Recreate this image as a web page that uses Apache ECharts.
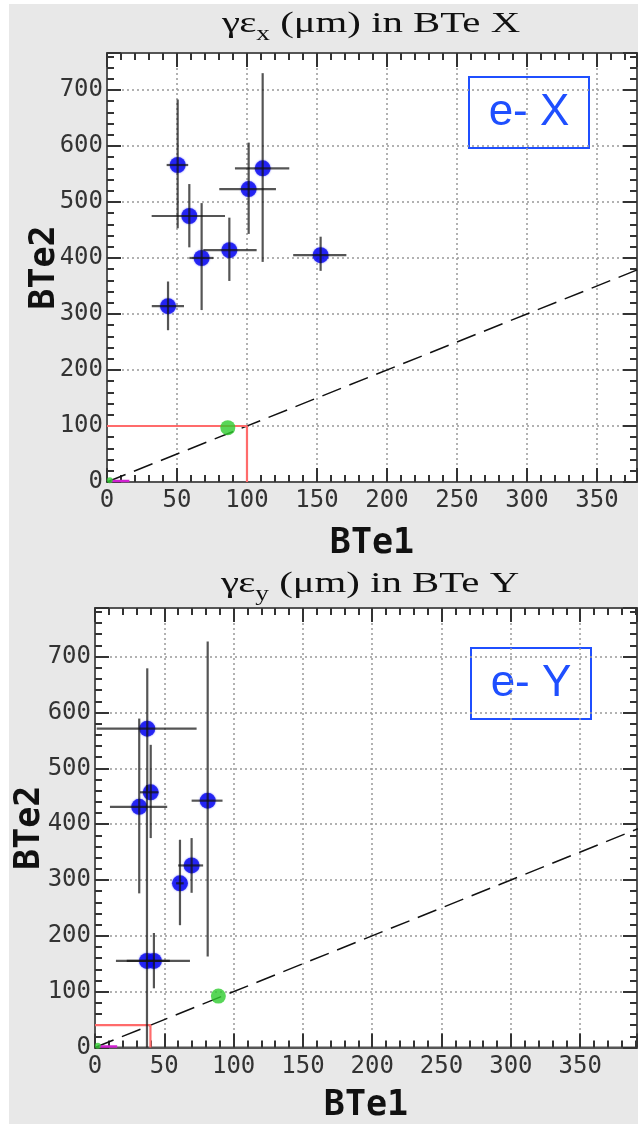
<!DOCTYPE html>
<html><head><meta charset="utf-8">
<script src="https://cdn.jsdelivr.net/npm/echarts@6/dist/echarts.min.js"></script>
<style>html,body{margin:0;padding:0;background:#fff;}#bg{position:absolute;left:9px;top:4px;width:629px;height:1120px;background:#e8e8e8;}#c{position:absolute;left:0;top:0;width:638px;height:1133px;}</style>
</head><body><div id="bg"></div><div id="c"></div>
<script>
// ---- data: top panel (e- X) ----
const topX    = [43.6, 50.5, 58.8, 67.6, 87.4, 101.2, 111.2, 152.6];
const topY    = [314, 566, 475, 400, 414, 523, 560, 405];
const topXLo  = [32, 42.6, 31.9, 58.8, 68.8, 80.2, 91.4, 133];
const topXHi  = [55, 58, 84.3, 76, 106.9, 120.7, 130.2, 171];
const topYLo  = [271, 453, 419, 307, 359, 443, 393, 377];
const topYHi  = [358, 683, 532, 498, 472, 606, 730, 438];
const topRef  = [86.3, 97];           // green reference point
const topCut  = 100;                  // red box corner
// ---- data: bottom panel (e- Y) ----
const botX    = [37.7, 40.2, 31.9, 81.3, 69.7, 61.3, 42.5, 37.5];
const botY    = [571, 457, 431, 442, 326, 294, 155, 155];
const botXLo  = [1.2, 32.4, 10.8, 69.7, 60, 58.5, 15.1, 22.9];
const botXHi  = [73.3, 45.6, 52.1, 92, 78, 64, 68.5, 54];
const botYLo  = [460, 375, 276, 163, 277, 219, 106, 0];
const botYHi  = [679, 542, 589, 727, 375, 372, 205, 470];
const botRef  = [89, 92];
const botCut  = 40;
// diagonal y = x and tiny near-origin markers
const diag    = [0, 420];
const nearOrigin = [[3, 2], [16, 2]];
const originPt = [2, 3];
// ticks
const xTickStep = 50, yTickStep = 100;
const topXMax = 378.6, topYMax = 766, botXMax = 391, botYMax = 787;

const chart = echarts.init(document.getElementById('c'), null, {renderer:'canvas'});
const tickFont = {fontFamily:'DejaVu Sans Mono', fontSize:24, color:'#333'};
const nameFont = {fontFamily:'DejaVu Sans Mono', fontSize:35, fontWeight:'bold', color:'#111'};
const lineSt = {show:true, onZero:false, lineStyle:{color:'#555', width:2}};
const tickSt = {show:true, inside:true, length:14, lineStyle:{color:'#333', width:2}};
const minorSt = {show:true, splitNumber:5, length:7, lineStyle:{color:'#333', width:2}};

function xAxes(gi, max, gap){
  return [{
    type:'value', gridIndex:gi, min:0, max:max, interval:xTickStep, position:'bottom',
    name:'BTe1', nameLocation:'middle', nameGap:gap, nameTextStyle:nameFont,
    axisLine:lineSt, axisTick:tickSt, minorTick:minorSt,
    axisLabel:{...tickFont, margin:7, showMaxLabel:false},
    splitLine:{show:true, lineStyle:{color:'#999', type:[2,3], width:1.5}}
  },{
    type:'value', gridIndex:gi, min:0, max:max, interval:xTickStep, position:'top',
    axisLine:lineSt, axisTick:tickSt, minorTick:minorSt,
    axisLabel:{show:false}, splitLine:{show:false}
  }];
}
function yAxes(gi, max, gap){
  return [{
    type:'value', gridIndex:gi, min:0, max:max, interval:yTickStep, position:'left',
    name:'BTe2', nameLocation:'middle', nameGap:gap, nameMoveOverlap:false, nameTextStyle:nameFont,
    axisLine:lineSt, axisTick:tickSt, minorTick:minorSt,
    axisLabel:{...tickFont, margin:4, showMaxLabel:false},
    splitLine:{show:true, lineStyle:{color:'#999', type:[2,3], width:1.5}}
  },{
    type:'value', gridIndex:gi, min:0, max:max, interval:yTickStep, position:'right',
    axisLine:lineSt, axisTick:tickSt, minorTick:minorSt,
    axisLabel:{show:false}, splitLine:{show:false}
  }];
}
function zipErr(xs, ys, xl, xh, yl, yh){ return xs.map((x,i)=>[x, ys[i], xl[i], xh[i], yl[i], yh[i]]); }
function errSeries(idx, data){
  return {
    type:'custom', xAxisIndex:idx*2, yAxisIndex:idx*2, z:5, data:data,
    renderItem:function(params, api){
      const x=api.value(0), y=api.value(1);
      const a=api.coord([api.value(2), y]), b=api.coord([api.value(3), y]);
      const c=api.coord([x, api.value(4)]), d=api.coord([x, api.value(5)]);
      const st={stroke:'rgba(20,20,20,0.72)', lineWidth:2.2};
      return {type:'group', children:[
        {type:'line', shape:{x1:a[0], y1:a[1], x2:b[0], y2:b[1]}, style:st},
        {type:'line', shape:{x1:c[0], y1:c[1], x2:d[0], y2:d[1]}, style:st}
      ]};
    }
  };
}
function panelSeries(idx, xs, ys, xl, xh, yl, yh, ref, cut){
  const ax = idx*2;
  return [
    {type:'line', xAxisIndex:ax, yAxisIndex:ax, data:[[diag[0],diag[0]],[diag[1],diag[1]]], symbol:'none', z:2,
     lineStyle:{color:'#111', width:1.5, type:[20,9]}, silent:true},
    {type:'line', xAxisIndex:ax, yAxisIndex:ax, data:[[0,cut],[cut,cut],[cut,0]], symbol:'none', z:3,
     lineStyle:{color:'#ff6b6b', width:2.2}, silent:true},
    {type:'line', xAxisIndex:ax, yAxisIndex:ax, data:nearOrigin, symbol:'none', z:3,
     lineStyle:{color:'#d020d0', width:2.5}, silent:true},
    {type:'scatter', xAxisIndex:ax, yAxisIndex:ax, data:[originPt], symbolSize:6, z:3,
     itemStyle:{color:'#33cc33'}},
    {type:'scatter', xAxisIndex:ax, yAxisIndex:ax, data:[ref], symbolSize:15, z:4,
     itemStyle:{color:'#2ecc2e'}},
    {type:'scatter', xAxisIndex:ax, yAxisIndex:ax, data:xs.map((x,i)=>[x,ys[i]]), symbolSize:16, z:4,
     itemStyle:{color:'#0a0af0', shadowBlur:2, shadowColor:'rgba(0,0,255,0.6)'}},
    errSeries(idx, zipErr(xs, ys, xl, xh, yl, yh))
  ];
}
function legendBox(x, y, label){
  return {type:'group', left:x, top:y, children:[
    {type:'rect', shape:{x:0, y:0, width:120, height:71}, style:{fill:'#fff', stroke:'#1f4fff', lineWidth:2}},
    {type:'text', x:60, y:36, style:{text:label, fill:'#1f4fff', font:'44px "Liberation Sans"', align:'center', verticalAlign:'middle'}}
  ]};
}
function titleText(cx, cy, sub, tail){
  return {type:'text', x:cx, y:cy, scaleX:1.36, scaleY:1, z:10,
    style:{text:'γε{sub|'+sub+'} (μm) in '+tail, fill:'#111', fontFamily:'Liberation Serif', fontSize:30,
      align:'center', verticalAlign:'middle',
      rich:{sub:{fontFamily:'Liberation Serif', fontSize:20, padding:[22,0,0,0], fill:'#111'}}}};
}
const option = {
  animation:false,
  grid:[
    {left:107, top:53, width:530, height:429, show:true, backgroundColor:'#fff', borderColor:'#555', borderWidth:2},
    {left:95, top:608, width:542, height:439.5, show:true, backgroundColor:'#fff', borderColor:'#555', borderWidth:2}
  ],
  xAxis:[...xAxes(0, topXMax, 44), ...xAxes(1, botXMax, 41)],
  yAxis:[...yAxes(0, topYMax, 45), ...yAxes(1, botYMax, 48)],
  series:[
    ...panelSeries(0, topX, topY, topXLo, topXHi, topYLo, topYHi, topRef, topCut),
    ...panelSeries(1, botX, botY, botXLo, botXHi, botYLo, botYHi, botRef, botCut)
  ],
  graphic:[legendBox(468, 76, 'e- X'), legendBox(470, 647, 'e- Y'),
           titleText(371, 24, 'x', 'BTe X'), titleText(370, 584, 'y', 'BTe Y')]
};
chart.setOption(option);
</script></body></html>
